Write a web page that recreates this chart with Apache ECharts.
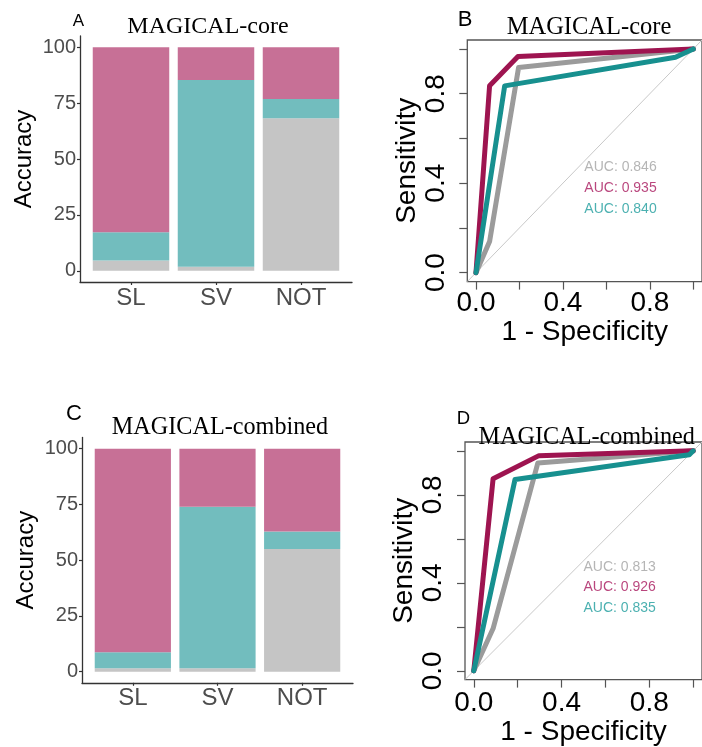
<!DOCTYPE html>
<html>
<head>
<meta charset="utf-8">
<script src="https://cdn.jsdelivr.net/npm/echarts@6/dist/echarts.min.js"></script>
<style>
html, body { margin: 0; padding: 0; background: #fff; }
#chart { width: 702px; height: 747px; }
</style>
</head>
<body>
<div id="chart"></div>
<script>
// ---- data ----
var categories = ['SL', 'SV', 'NOT'];
var accTicks = [0, 25, 50, 75, 100];

// stacked accuracy segments, bottom to top (grey, teal, pink)
var coreGray = [4.6, 1.8, 68.2];
var coreTeal = [12.7, 83.5, 8.6];
var corePink = [82.7, 14.7, 23.2];
var combGray = [1.5, 1.5, 55.0];
var combTeal = [7.2, 72.5, 7.8];
var combPink = [91.3, 26.0, 37.2];

var rocTicks = [0, 0.2, 0.4, 0.6, 0.8, 1];
var rocLabels = [0, 0.4, 0.8];
var coreRocGray = [[0, 0], [0.0625, 0.139], [0.196, 0.917], [1, 1]];
var coreRocPink = [[0, 0], [0.0625, 0.835], [0.193, 0.966], [1, 1]];
var coreRocTeal = [[0, 0], [0.132, 0.835], [0.918, 0.963], [1, 1]];
var combRocGray = [[0, 0], [0.088, 0.192], [0.292, 0.945], [1, 1]];
var combRocPink = [[0, 0], [0.088, 0.873], [0.297, 0.978], [1, 1]];
var combRocTeal = [[0, 0], [0.188, 0.870], [0.982, 0.982], [1, 1]];
var diagonal = [[-0.04, -0.04], [1.04, 1.04]];
var coreAuc = ['AUC: 0.846', 'AUC: 0.935', 'AUC: 0.840'];
var combAuc = ['AUC: 0.813', 'AUC: 0.926', 'AUC: 0.835'];
var aucX = 0.665;
var aucY = [0.472, 0.378, 0.284];

// ---- styles ----
var SANS = 'Liberation Sans';
var SERIF = 'Liberation Serif';
var BAR_GRAY = '#C5C5C5', BAR_TEAL = '#72BDBE', BAR_PINK = '#C77096';
var ROC_GRAY = '#9B9B9B', ROC_PINK = '#9E1450', ROC_TEAL = '#17908F';
var TXT = ['#A3A3A3', '#A8185C', '#1E9C9C'];

var chart = echarts.init(document.getElementById('chart'));

function frameX(grid) {
  return {
    gridIndex: grid, type: 'value', min: 0, max: 1,
    axisLine: { show: true, onZero: false, lineStyle: { color: '#333', width: 1.3 } },
    axisTick: { show: false }, axisLabel: { show: false }, splitLine: { show: false }
  };
}
function frameY(grid) {
  return {
    gridIndex: grid, type: 'value', min: -5, max: 105,
    axisLine: { show: true, onZero: false, lineStyle: { color: '#333', width: 1.3 } },
    axisTick: { show: true, customValues: accTicks, length: 3, lineStyle: { color: '#333', width: 1.2 } },
    axisLabel: { customValues: accTicks, fontSize: 20, color: '#4D4D4D', margin: 4, fontFamily: SANS },
    splitLine: { show: false },
    name: 'Accuracy', nameLocation: 'middle', nameGap: 44,
    nameTextStyle: { fontSize: 24, color: '#000', fontFamily: SANS }
  };
}
function catX(grid) {
  return {
    gridIndex: grid, type: 'category', data: categories,
    axisLine: { show: false, onZero: false },
    axisTick: { show: true, alignWithLabel: true, length: 3, lineStyle: { color: '#333', width: 1.2 } },
    axisLabel: { fontSize: 24, color: '#4D4D4D', margin: 4, fontFamily: SANS }
  };
}
function hiddenY(grid) {
  return { gridIndex: grid, type: 'value', min: -5, max: 105, show: false };
}
function rocX(grid, margin, gap) {
  return {
    gridIndex: grid, type: 'value', min: -0.04, max: 1.04,
    axisLine: { show: false, onZero: false },
    axisTick: { show: true, customValues: rocTicks, length: 8, lineStyle: { color: '#555', width: 1.2 } },
    axisLabel: { customValues: rocLabels, fontSize: 28, color: '#000', margin: margin, fontFamily: SANS,
      formatter: function (v) { return v.toFixed(1); } },
    splitLine: { show: false },
    name: '1 - Specificity', nameLocation: 'middle', nameGap: gap,
    nameTextStyle: { fontSize: 28, color: '#000', fontFamily: SANS }
  };
}
function rocY(grid, margin, gap) {
  return {
    gridIndex: grid, type: 'value', min: -0.04, max: 1.04,
    axisLine: { show: false, onZero: false },
    axisTick: { show: true, customValues: rocTicks, length: 8, lineStyle: { color: '#555', width: 1.2 } },
    axisLabel: { customValues: rocLabels, rotate: 90, fontSize: 28, color: '#000', margin: margin, fontFamily: SANS,
      formatter: function (v) { return v.toFixed(1); } },
    splitLine: { show: false },
    name: 'Sensitivity', nameLocation: 'middle', nameGap: gap,
    nameTextStyle: { fontSize: 28, color: '#000', fontFamily: SANS }
  };
}

function bar(axis, values, color) {
  return {
    type: 'bar', xAxisIndex: axis, yAxisIndex: axis, stack: 'acc' + axis,
    barWidth: '90%', data: values, itemStyle: { color: color }
  };
}
function rocLine(axis, points, color) {
  return {
    type: 'line', xAxisIndex: axis, yAxisIndex: axis, data: points, symbol: 'none',
    lineStyle: { color: color, width: 5, cap: 'round', join: 'round' }
  };
}
function diagLine(axis) {
  return {
    type: 'line', xAxisIndex: axis, yAxisIndex: axis, data: diagonal, symbol: 'none', z: 1,
    lineStyle: { color: '#C8C8C8', width: 1 }
  };
}
function aucLabels(axis, texts) {
  return {
    type: 'scatter', xAxisIndex: axis, yAxisIndex: axis, symbolSize: 0,
    itemStyle: { color: 'transparent' },
    data: texts.map(function (t, i) {
      return { value: [aucX, aucY[i], t], label: { color: TXT[i] } };
    }),
    label: {
      show: true, position: 'inside', fontSize: 14, fontFamily: SANS,
      formatter: function (p) { return p.value[2]; }
    }
  };
}
function txt(text, x, y, size, family) {
  return {
    type: 'text', x: x, y: y,
    style: { text: text, fontSize: size, fontFamily: family, fill: '#000',
      textAlign: 'center', textVerticalAlign: 'middle' }
  };
}

chart.setOption({
  animation: false,
  backgroundColor: '#fff',
  textStyle: { fontFamily: SANS },
  grid: [
    { left: 80, top: 36, width: 272, height: 246 },
    { left: 88.5, top: 36, width: 255, height: 246 },
    { left: 467.3, top: 40, width: 242, height: 241.6, show: true, borderColor: '#555', borderWidth: 1.3 },
    { left: 82, top: 437.5, width: 271, height: 245.3 },
    { left: 90.5, top: 437.5, width: 254, height: 245.3 },
    { left: 465, top: 442, width: 242, height: 241.6, show: true, borderColor: '#555', borderWidth: 1.3 }
  ],
  xAxis: [frameX(0), catX(1), rocX(2, 7.5, 33), frameX(3), catX(4), rocX(5, 9.5, 35)],
  yAxis: [frameY(0), hiddenY(1), rocY(2, 17, 45), frameY(3), hiddenY(4), rocY(5, 18, 43)],
  series: [
    bar(1, coreGray, BAR_GRAY), bar(1, coreTeal, BAR_TEAL), bar(1, corePink, BAR_PINK),
    bar(4, combGray, BAR_GRAY), bar(4, combTeal, BAR_TEAL), bar(4, combPink, BAR_PINK),
    diagLine(2), rocLine(2, coreRocGray, ROC_GRAY), rocLine(2, coreRocPink, ROC_PINK),
    rocLine(2, coreRocTeal, ROC_TEAL), aucLabels(2, coreAuc),
    diagLine(5), rocLine(5, combRocGray, ROC_GRAY), rocLine(5, combRocPink, ROC_PINK),
    rocLine(5, combRocTeal, ROC_TEAL), aucLabels(5, combAuc)
  ],
  graphic: [
    txt('A', 78.5, 21, 17, SANS),
    txt('MAGICAL-core', 208, 27, 24, SERIF),
    txt('B', 465, 20, 22, SANS),
    txt('MAGICAL-core', 589, 27.5, 24.5, SERIF),
    txt('C', 74, 413.5, 22, SANS),
    txt('MAGICAL-combined', 220, 428, 24.2, SERIF),
    txt('D', 463.5, 418.5, 18.5, SANS),
    txt('MAGICAL-combined', 586.7, 437.5, 24.2, SERIF)
  ]
});
</script>
</body>
</html>
